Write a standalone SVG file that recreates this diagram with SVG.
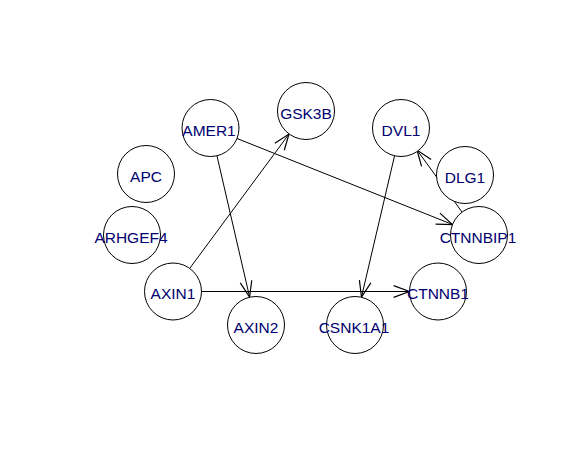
<svg xmlns="http://www.w3.org/2000/svg" width="574" height="460" viewBox="0 0 574 460">
<style>
.e{stroke:#000;stroke-width:1;fill:none}
.n circle{fill:#fff;stroke:#000;stroke-width:1}
.n text{font-family:"Liberation Sans",Arial,sans-serif;font-size:15.5px;fill:#000070;text-anchor:middle}
</style>
<defs>
<marker id="arr" markerUnits="userSpaceOnUse" markerWidth="20" markerHeight="20" refX="0" refY="0" viewBox="-15 -8 17 16" orient="auto" overflow="visible">
<path d="M-13.5,-5 L0,0 L-13.5,5" fill="none" stroke="#000" stroke-width="1"/>
</marker>
</defs>
<rect width="574" height="460" fill="#fff"/>
<g id="edges">
<line class="e" x1="190" y1="268" x2="289" y2="134" marker-end="url(#arr)"/>
<line class="e" x1="217" y1="156" x2="249.6" y2="297" marker-end="url(#arr)"/>
<line class="e" x1="237" y1="138.5" x2="452.5" y2="224.5" marker-end="url(#arr)"/>
<line class="e" x1="201.5" y1="291.5" x2="409.5" y2="291.5" marker-end="url(#arr)"/>
<line class="e" x1="394.5" y1="156" x2="361.5" y2="297" marker-end="url(#arr)"/>
<line class="e" x1="462" y1="212" x2="417" y2="150" marker-end="url(#arr)"/>
</g>
<g id="APC" class="n"><circle cx="146" cy="174" r="28.5"/><text x="146" y="181.5">APC</text></g>
<g id="AMER1" class="n"><circle cx="210.5" cy="128" r="28.5"/><text x="209" y="135.5">AMER1</text></g>
<g id="GSK3B" class="n"><circle cx="306" cy="111" r="28.5"/><text x="306" y="118.5">GSK3B</text></g>
<g id="ARHGEF4" class="n"><circle cx="132" cy="235" r="28.5"/><text x="131" y="242.5">ARHGEF4</text></g>
<g id="AXIN1" class="n"><circle cx="173" cy="291.5" r="28.5"/><text x="173" y="299">AXIN1</text></g>
<g id="AXIN2" class="n"><circle cx="256" cy="325" r="28.5"/><text x="256" y="332.5">AXIN2</text></g>
<g id="DVL1" class="n"><circle cx="401" cy="128" r="28.5"/><text x="401" y="135.5">DVL1</text></g>
<g id="DLG1" class="n"><circle cx="465" cy="175" r="28.5"/><text x="465" y="182.5">DLG1</text></g>
<g id="CTNNBIP1" class="n"><circle cx="479" cy="235" r="28.5"/><text x="478" y="242.5">CTNNBIP1</text></g>
<g id="CTNNB1" class="n"><circle cx="438" cy="291.5" r="28.5"/><text x="438" y="299">CTNNB1</text></g>
<g id="CSNK1A1" class="n"><circle cx="355" cy="325" r="28.5"/><text x="354" y="332.5">CSNK1A1</text></g>
</svg>
